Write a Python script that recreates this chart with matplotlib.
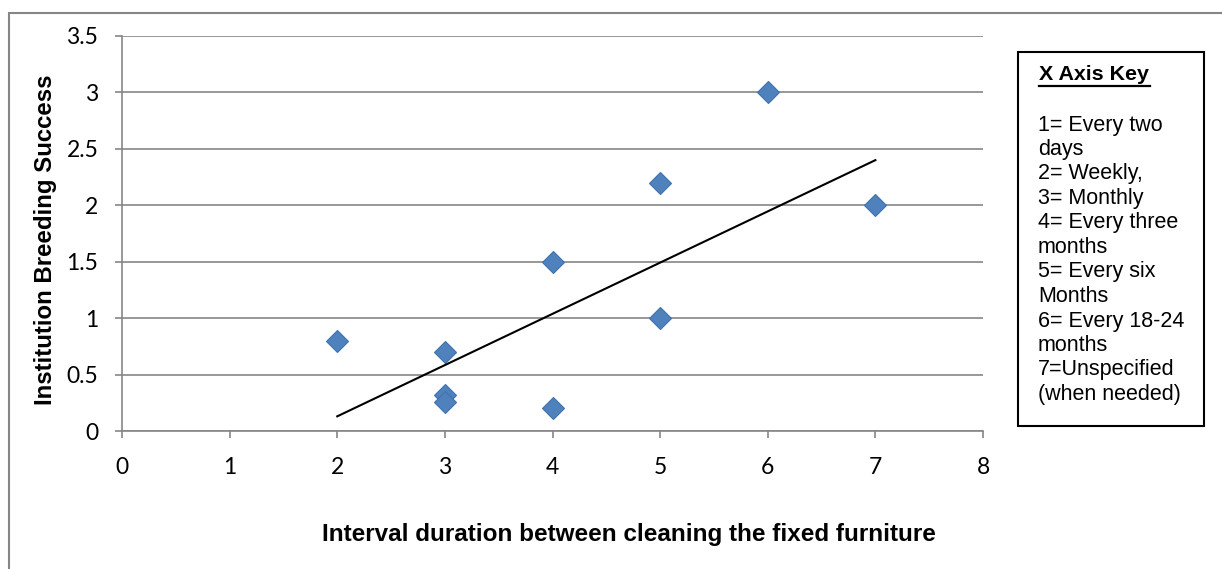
import numpy as np
import matplotlib.pyplot as plt
from matplotlib.patches import Rectangle

# cleaning interval code vs breeding success
interval = [2, 3, 3, 3, 4, 4, 5, 5, 6, 7]
success = [0.8, 0.7, 0.32, 0.26, 1.5, 0.2, 2.2, 1.0, 3.0, 2.0]

# linear trend line end points
trend_x = [2, 7]
trend_y = [0.13, 2.40]

key_title = "X Axis Key"
key_lines = [
    "1= Every two",
    "days",
    "2= Weekly,",
    "3= Monthly",
    "4= Every three",
    "months",
    "5= Every six",
    "Months",
    "6= Every 18-24",
    "months",
    "7=Unspecified",
    "(when needed)",
]

W, H = 1222, 569
fig = plt.figure(figsize=(W / 100, H / 100), dpi=100)

grid_col = '#868686'

# outer chart border (runs off the right and bottom edges)
fig.patches.append(Rectangle((9 / W, -0.1), 1.2, 1 - 13 / H + 0.1,
                             transform=fig.transFigure, fill=False,
                             edgecolor=grid_col, linewidth=1.5))

ax = fig.add_axes([122 / W, 1 - 431 / H, (983 - 122) / W, (431 - 36) / H])
ax.set_xlim(0, 8)
ax.set_ylim(0, 3.5)
ax.set_xticks(np.arange(0, 9, 1))
ax.set_yticks(np.arange(0, 4, 0.5))
ax.set_yticklabels(['0', '0.5', '1', '1.5', '2', '2.5', '3', '3.5'])
ax.yaxis.grid(True, color=grid_col, linewidth=1.2)
ax.set_axisbelow(True)
for s in ['top', 'right']:
    ax.spines[s].set_visible(False)
for s in ['left', 'bottom']:
    ax.spines[s].set_color(grid_col)
    ax.spines[s].set_linewidth(1.2)
ax.tick_params(axis='both', colors=grid_col, length=5, width=1.2,
               labelcolor='black', labelsize=16.5)
ax.tick_params(axis='y', pad=12)
ax.tick_params(axis='x', pad=14)
for lab in ax.get_xticklabels() + ax.get_yticklabels():
    lab.set_family('Lato')

ax.plot(interval, success, linestyle='none', marker='D', markersize=11,
        markerfacecolor='#4F81BD', markeredgecolor='#3F72AF',
        markeredgewidth=0.8, zorder=3)
ax.plot(trend_x, trend_y, color='black', linewidth=1.5, zorder=4)

fig.text(46 / W, 1 - 240 / H, 'Institution Breeding Success', rotation=90,
         ha='center', va='center', fontsize=17.3, fontweight='bold',
         family='Liberation Sans')
fig.text(629 / W, 1 - 535 / H,
         'Interval duration between cleaning the fixed furniture',
         ha='center', va='center', fontsize=17.5, fontweight='bold',
         family='Liberation Sans')

# key box on the right
fig.patches.append(Rectangle((1018 / W, 1 - 426 / H), (1204 - 1018) / W,
                             (426 - 52) / H, transform=fig.transFigure,
                             fill=False, edgecolor='black', linewidth=1.5))
fig.text(1039 / W, 1 - 75 / H, key_title, ha='left', va='center',
         fontsize=15.4, fontweight='bold', family='Liberation Sans')
fig.add_artist(plt.Line2D([1039 / W, 1150 / W], [1 - 86 / H, 1 - 86 / H],
                          color='black', linewidth=1.6,
                          transform=fig.transFigure))
y0 = 125
step = 24.5
for i, line in enumerate(key_lines):
    fig.text(1038 / W, 1 - (y0 + i * step) / H, line, ha='left',
             va='center', fontsize=15.5, family='Liberation Sans')

fig.savefig('out.png', dpi=100)
